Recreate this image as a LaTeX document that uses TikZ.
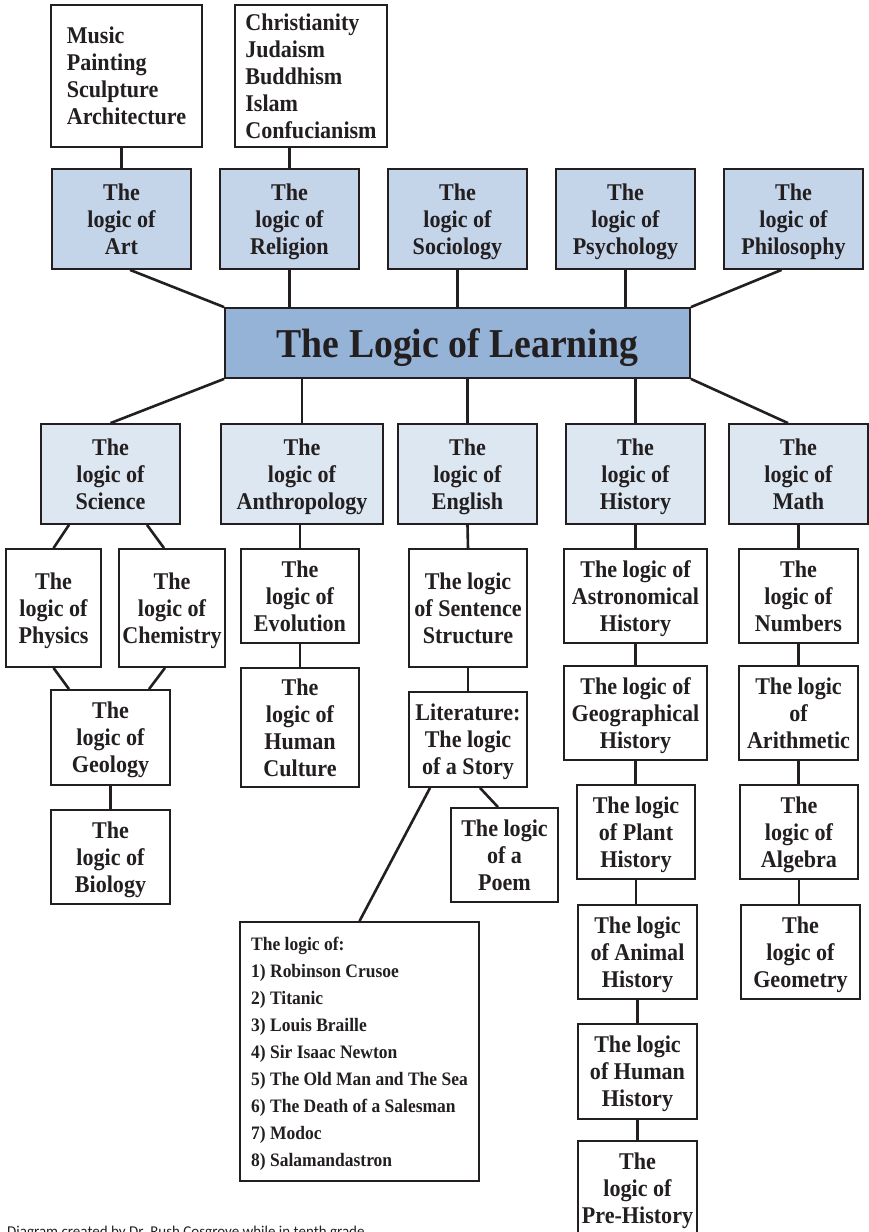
\documentclass[tikz,border=0pt]{standalone}
\usepackage{tikz}
\usetikzlibrary{calc}
\usepackage{fontspec}
\setmainfont{Liberation Serif}[FakeStretch=0.92]
\newfontfamily\creditfont{Carlito}
\definecolor{inkgray}{RGB}{35,31,32}
\definecolor{topblue}{RGB}{196,212,233}
\definecolor{midblue}{RGB}{221,231,242}
\definecolor{mainblue}{RGB}{149,179,215}

\begin{document}
\begin{tikzpicture}[x=1pt,y=-1pt,
  box/.style={draw=inkgray,line width=1.8pt,text=inkgray,align=center,inner sep=0pt,
    text depth=0pt,font=\bfseries\fontsize{24}{27}\selectfont},
  topbox/.style={box,fill=topblue},
  midbox/.style={box,fill=midblue},
  leafbox/.style={box,fill=white},
  listbox/.style={box,fill=white,align=left},
  boxsize/.style 2 args={minimum width=#1pt,minimum height=#2pt},
  link/.style={draw=inkgray,line width=2.6pt}]
\path[fill=white,use as bounding box] (0,0) rectangle (869,1232);

\node[listbox,boxsize={151}{142}] (artlist) at (126.5,76) {Music\\Painting\\Sculpture\\Architecture};
\node[listbox,boxsize={152}{142}] (rellist) at (311,76) {Christianity\\Judaism\\Buddhism\\Islam\\Confucianism};

\node[topbox,boxsize={139}{100}] (art) at (121.5,219) {The\\logic of\\Art};
\node[topbox,boxsize={139}{100}] (rel) at (289.5,219) {The\\logic of\\Religion};
\node[topbox,boxsize={139}{100}] (soc) at (457.5,219) {The\\logic of\\Sociology};
\node[topbox,boxsize={139}{100}] (psy) at (625.5,219) {The\\logic of\\Psychology};
\node[topbox,boxsize={139}{100}] (phil) at (793.5,219) {The\\logic of\\Philosophy};

\node[box,fill=mainblue,boxsize={465}{70},font=\bfseries\fontsize{41}{45}\selectfont] (main) at (457.5,343) {The Logic of Learning};

\node[midbox,boxsize={139}{100}] (sci) at (110.5,474) {The\\logic of\\Science};
\node[midbox,boxsize={162}{100}] (anth) at (302,474) {The\\logic of\\Anthropology};
\node[midbox,boxsize={139}{100}] (eng) at (467.5,474) {The\\logic of\\English};
\node[midbox,boxsize={139}{100}] (hist) at (635.5,474) {The\\logic of\\History};
\node[midbox,boxsize={139}{100}] (math) at (798.5,474) {The\\logic of\\Math};

\node[leafbox,boxsize={95}{118}] (phys) at (53.5,608) {The\\logic of\\Physics};
\node[leafbox,boxsize={106}{118}] (chem) at (172,608) {The\\logic of\\Chemistry};
\node[leafbox,boxsize={119}{95}] (geol) at (110.5,737.5) {The\\logic of\\Geology};
\node[leafbox,boxsize={119}{94}] (bio) at (110.5,857) {The\\logic of\\Biology};

\node[leafbox,boxsize={118}{94}] (evol) at (300,596) {The\\logic of\\Evolution};
\node[leafbox,boxsize={118}{119}] (cult) at (300,727.5) {The\\logic of\\Human\\Culture};

\node[leafbox,boxsize={118}{118}] (sent) at (468,608) {The logic\\of Sentence\\Structure};
\node[leafbox,boxsize={118}{95}] (lit) at (468,739.5) {Literature:\\The logic\\of a Story};
\node[leafbox,boxsize={107}{94}] (poem) at (504.5,855) {The logic\\of a\\Poem};
\node[listbox,boxsize={239}{259},font=\bfseries\fontsize{19}{27}\selectfont] (stories) at (359.5,1051.5)
  {The logic of:\\1) Robinson Crusoe\\2) Titanic\\3) Louis Braille\\4) Sir Isaac Newton\\5) The Old Man and The Sea\\6) The Death of a Salesman\\7) Modoc\\8) Salamandastron};

\node[leafbox,boxsize={143}{94}] (astro) at (635.5,596) {The logic of\\Astronomical\\History};
\node[leafbox,boxsize={143}{94}] (geog) at (635.5,713) {The logic of\\Geographical\\History};
\node[leafbox,boxsize={118}{94}] (plant) at (636,832) {The logic\\of Plant\\History};
\node[leafbox,boxsize={119}{94}] (animal) at (637.5,952) {The logic\\of Animal\\History};
\node[leafbox,boxsize={119}{95}] (human) at (637.5,1071.5) {The logic\\of Human\\History};
\node[leafbox,boxsize={119}{95}] (pre) at (637.5,1188.5) {The\\logic of\\Pre-History};

\node[leafbox,boxsize={119}{94}] (num) at (798.5,596) {The\\logic of\\Numbers};
\node[leafbox,boxsize={119}{94}] (arith) at (798.5,713) {The logic\\of\\Arithmetic};
\node[leafbox,boxsize={118}{94}] (alg) at (799,832) {The\\logic of\\Algebra};
\node[leafbox,boxsize={119}{94}] (geom) at (800.5,952) {The\\logic of\\Geometry};

\node[anchor=base west,inner sep=0pt,text=inkgray,font=\creditfont\fontsize{15}{18}\selectfont] (credit) at (7,1236) {Diagram created by Dr. Rush Cosgrove while in tenth grade.};

\draw[link] (art.north) -- (art.north |- artlist.south);
\draw[link] (rel.north) -- (rel.north |- rellist.south);
\draw[link] ([xshift=8.5pt]art.south) -- (main.north west);
\draw[link] (rel.south) -- (rel.south |- main.north);
\draw[link] (soc.south) -- (main.north);
\draw[link] (psy.south) -- (psy.south |- main.north);
\draw[link] ([xshift=-12pt]phil.south) -- (main.north east);

\draw[link] (main.south west) -- (sci.north);
\foreach \sub in {anth,eng,hist}
  \draw[link] (\sub.north |- main.south) -- (\sub.north);
\draw[link] (main.south east) -- ([xshift=-10.5pt]math.north);

\draw[link] ([xshift=-41.5pt]sci.south) -- (phys.north);
\draw[link] ([xshift=36.5pt]sci.south) -- ([xshift=-8pt]chem.north);
\draw[link] (phys.south) -- ([xshift=-41.5pt]geol.north);
\draw[link] ([xshift=-7pt]chem.south) -- ([xshift=38.5pt]geol.north);
\draw[link] (geol.south) -- (bio.north);

\draw[link] (evol.north |- anth.south) -- (evol.north);
\draw[link] (evol.south) -- (cult.north);

\draw[link] (eng.south) -- (sent.north);
\draw[link] (sent.south) -- (lit.north);
\draw[link] ([xshift=12pt]lit.south) -- ([xshift=-6.5pt]poem.north);
\draw[link] ([xshift=-38pt]lit.south) -- (stories.north);

\foreach \a/\b in {hist/astro,astro/geog,geog/plant,plant/animal,animal/human,human/pre,
                   math/num,num/arith,arith/alg,alg/geom}
  \draw[link] (\a.south) -- (\a.south |- \b.north);
\end{tikzpicture}
\end{document}
